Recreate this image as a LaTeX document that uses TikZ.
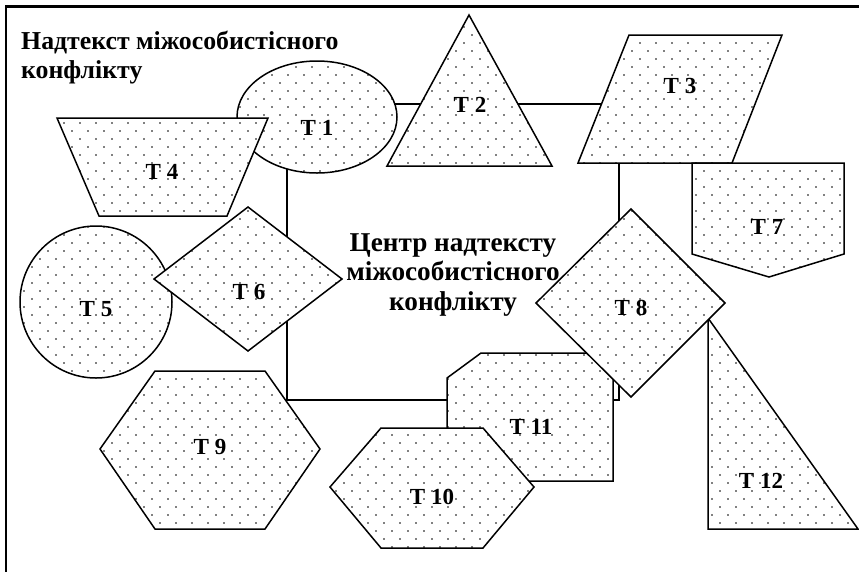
\documentclass[tikz,border=0pt]{standalone}
\usepackage{fontspec}
\setmainfont{Liberation Serif}
\usetikzlibrary{patterns}

% sparse staggered dots, 16pt tile
\pgfdeclarepatternformonly{sparsedots}{\pgfqpoint{-1pt}{-1pt}}{\pgfqpoint{17pt}{17pt}}{\pgfqpoint{16pt}{16pt}}{%
  \pgfpathcircle{\pgfqpoint{0pt}{0pt}}{0.85pt}%
  \pgfpathcircle{\pgfqpoint{8pt}{8pt}}{0.85pt}%
  \pgfusepath{fill}}

\begin{document}
\begin{tikzpicture}[x=1pt, y=-1pt,
		fig/.style={draw, line width=1.5pt, preaction={fill=white}, pattern=sparsedots},
		tlabel/.style={font=\fontsize{23}{26}\selectfont\bfseries, inner sep=0pt},
		bigtext/.style={font=\fontsize{27.2}{29.5}\selectfont\bfseries, inner sep=0pt},
		headtext/.style={font=\fontsize{25.8}{29.5}\selectfont\bfseries, inner sep=0pt}]
	\useasboundingbox (0,0) rectangle (859,571);
	\begin{scope}
		\clip (0,0) rectangle (859,571);
		\draw[line width=2.5pt] (6,600) -- (6,6.5) -- (900,6.5);
	\end{scope}
	% centre box and its text
	\draw[line width=1.5pt] (287,104) rectangle (619,400);
	\node[bigtext, align=center, anchor=north] (core) at (453,233) {Центр надтексту\\міжособистісного\\конфлікту};
	\node[headtext, align=left, anchor=north west] (title) at (21,30.5) {Надтекст міжособистісного\\конфлікту};
	% figures, back to front
	\path[fig] (317,117) ellipse [x radius=80pt, y radius=56pt];
	\path[fig] (387,166) -- (552,166) -- (469,15) -- cycle;
	\path[fig] (629,35) -- (782,35) -- (732,163) -- (578,163) -- cycle;
	\path[fig] (692,163) -- (844,163) -- (844,254) -- (769,277) -- (692,254) -- cycle;
	\path[fig] (57,118) -- (268,118) -- (227,216) -- (99,216) -- cycle;
	\path[fig] (96,302) circle [radius=76pt];
	\path[fig] (248,207) -- (342,279) -- (248,351) -- (154,279) -- cycle;
	\path[fig] (708,318) -- (708,529) -- (858,529) -- cycle;
	\path[fig] (447,378) -- (481,353) -- (613,353) -- (613,481) -- (447,481) -- cycle;
	\path[fig] (631,209) -- (725,303) -- (631,397) -- (536,303) -- cycle;
	\path[fig] (381,428) -- (483,428) -- (534,487) -- (483,548) -- (381,548) -- (330,487) -- cycle;
	\path[fig] (155,371) -- (265,371) -- (320,449) -- (265,529) -- (155,529) -- (100,449) -- cycle;
	% labels
	\node[tlabel] (t1) at (317,128) {Т 1};
	\node[tlabel] (t2) at (470,105) {Т 2};
	\node[tlabel] (t3) at (680,86) {Т 3};
	\node[tlabel] (t4) at (162,172) {Т 4};
	\node[tlabel] (t5) at (96,309) {Т 5};
	\node[tlabel] (t6) at (249,292) {Т 6};
	\node[tlabel] (t7) at (767,227) {Т 7};
	\node[tlabel] (t8) at (631,308) {Т 8};
	\node[tlabel] (t9) at (210,447) {Т 9};
	\node[tlabel] (t10) at (432,497) {Т 10};
	\node[tlabel] (t11) at (531,427) {Т 11};
	\node[tlabel] (t12) at (761,481) {Т 12};
\end{tikzpicture}
\end{document}
